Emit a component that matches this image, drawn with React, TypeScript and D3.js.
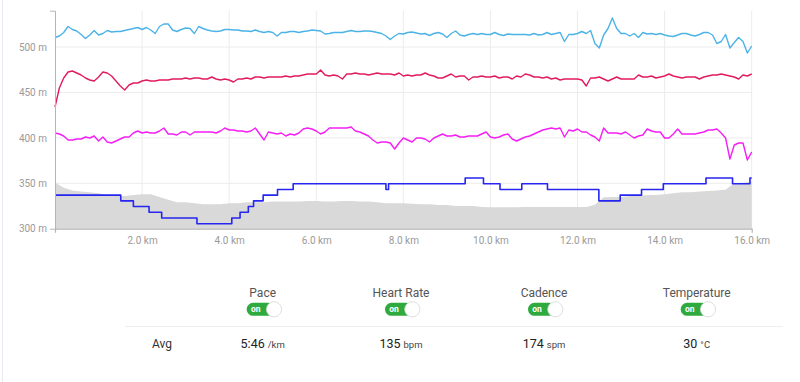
import React, { useEffect, useRef } from 'react';
import * as d3 from 'd3';

const W = 800;
const H = 382;
const STEP_KM = 0.1;
const ALT_STEP_KM = 0.2;
const X_TICKS = [2, 4, 6, 8, 10, 12, 14, 16];
const Y_TICKS = [300, 350, 400, 450, 500];

// Pace, sec/km, every 0.1 km
const PACE = [
  351, 348, 341, 329, 335, 338, 345, 353, 346, 337,
  346, 343, 337, 340, 339, 339, 337, 335, 333, 331,
  335, 331, 336, 343, 329, 324, 324, 336, 339, 335,
  332, 333, 343, 329, 333, 336, 338, 339, 338, 335,
  335, 336, 336, 338, 338, 339, 336, 339, 341, 339,
  341, 348, 341, 341, 339, 339, 341, 339, 338, 336,
  337, 338, 344, 343, 341, 341, 341, 339, 337, 339,
  339, 338, 338, 339, 341, 343, 348, 355, 348, 343,
  344, 341, 340, 342, 344, 343, 347, 343, 341, 344,
  351, 343, 338, 346, 348, 345, 343, 345, 343, 345,
  345, 341, 345, 347, 344, 345, 345, 345, 345, 346,
  343, 346, 345, 341, 345, 343, 341, 359, 345, 345,
  343, 339, 343, 337, 363, 372, 346, 333, 312, 333,
  343, 343, 348, 343, 351, 341, 344, 343, 345, 343,
  346, 348, 349, 346, 343, 343, 346, 348, 345, 341,
  341, 346, 363, 359, 345, 372, 361, 351, 359, 382,
  368,
];

// Heart rate, bpm, every 0.1 km
const HEART_RATE = [
  104, 123, 133, 139, 140, 138, 136, 133, 131, 130,
  134, 139, 138, 135, 130, 125, 121, 126, 128, 128,
  130, 131, 130, 130, 131, 131, 131, 132, 132, 132,
  133, 132, 133, 133, 132, 132, 134, 132, 131, 132,
  131, 129, 132, 132, 133, 132, 134, 134, 133, 134,
  134, 134, 134, 135, 134, 135, 135, 136, 137, 137,
  137, 141, 136, 135, 136, 135, 132, 137, 137, 138,
  137, 137, 136, 137, 138, 137, 137, 137, 136, 138,
  135, 136, 135, 136, 136, 138, 136, 135, 133, 133,
  135, 137, 134, 135, 135, 131, 134, 134, 135, 134,
  134, 135, 133, 134, 134, 132, 135, 134, 137, 136,
  134, 134, 133, 134, 132, 133, 131, 132, 132, 132,
  132, 131, 125, 133, 133, 134, 132, 130, 132, 134,
  132, 132, 132, 132, 136, 134, 134, 135, 133, 134,
  135, 137, 135, 134, 133, 134, 134, 134, 132, 134,
  135, 136, 136, 137, 136, 135, 134, 132, 136, 135,
  137,
];

// Cadence, spm, every 0.1 km
const CADENCE = [
  175, 174, 172, 168, 168, 169, 169, 171, 170, 172,
  167, 171, 166, 165, 167, 169, 171, 171, 175, 177,
  175, 176, 175, 175, 177, 180, 174, 174, 173, 176,
  176, 173, 176, 176, 176, 176, 176, 175, 177, 180,
  178, 178, 177, 177, 176, 177, 180, 174, 168, 176,
  175, 174, 175, 172, 174, 173, 175, 179, 180, 179,
  177, 174, 176, 180, 180, 180, 180, 180, 181, 177,
  176, 174, 172, 168, 165, 166, 166, 165, 159, 165,
  170, 168, 166, 170, 170, 169, 166, 170, 172, 174,
  172, 172, 173, 171, 171, 172, 172, 172, 174, 176,
  171, 170, 171, 173, 174, 169, 167, 169, 171, 172,
  174, 176, 178, 179, 180, 179, 180, 171, 178, 177,
  179, 176, 176, 173, 171, 167, 180, 175, 175, 175,
  174, 176, 173, 170, 172, 173, 179, 177, 176, 176,
  170, 170, 174, 179, 174, 174, 174, 174, 175, 176,
  178, 178, 179, 175, 170, 149, 163, 165, 165, 148,
  156,
];

// Altitude, m, every 0.2 km
const ALTITUDE = [
  351, 345, 342, 341, 340, 339, 337, 336, 336, 337,
  338, 338, 335, 332, 329, 329, 328, 327, 327, 327,
  328, 328, 329, 329, 329, 330, 330, 330, 330, 330.5,
  330.5, 330, 330, 330.5, 330.5, 330, 330, 329, 328, 328,
  328, 327.5, 327, 327, 326, 326, 325, 325, 325, 324,
  323.5, 323.5, 323.5, 323.5, 324, 324, 324, 324, 324, 324,
  324, 324, 326.5, 334.5, 335, 335, 336, 336, 337, 337,
  338, 339, 340, 340, 341, 341.5, 342, 343, 350, 350.5,
  352,
];

// Temperature, °C, step changes
const TEMP_START_KM = [
  0, 1.51, 1.8, 2.16, 2.45, 3.26, 4.06, 4.25, 4.44, 4.56, 4.78, 5.11, 5.47,
  7.6, 7.66, 9.42, 9.84, 10.22, 10.72, 11.31, 12.49, 12.98, 13.47, 13.97,
  14.95, 15.56, 15.96,
];
const TEMP_C = [
  29, 28, 27, 26, 25, 24, 25, 26, 27, 28, 29, 30, 31,
  30, 31, 32, 31, 30, 31, 30, 28, 29, 30, 31,
  32, 31, 32,
];

const SERIES = ['Pace', 'Heart Rate', 'Cadence', 'Temperature'];
const AVG_VALUES = ['5:46', '135', '174', '30'];
const AVG_UNITS = ['/km', 'bpm', 'spm', '°C'];

const COLORS = {
  pace: '#4cb3e6',
  hr: '#e21c5c',
  cad: '#f51ef5',
  temp: '#2626f0',
  alt: '#d9d9d9',
};

const FONT = 'Roboto, "Noto Sans", sans-serif';

export default function App() {
  const xAxisRef = useRef<SVGGElement>(null);
  const yAxisRef = useRef<SVGGElement>(null);

  const x = d3.scaleLinear().domain([0, 16]).range([55, 751.7]);
  const yAlt = d3.scaleLinear().domain([300, 540]).range([228.7, 10.7]);
  const yPace = d3.scaleLinear().domain([300, 400]).range([12, 62]);
  const yHr = d3.scaleLinear().domain([100, 160]).range([111, 51]);
  const yCad = d3.scaleLinear().domain([140, 190]).range([168, 118]);
  const yTemp = d3.scaleLinear().domain([24, 32]).range([223.7, 178]);

  const line = (ys: d3.ScaleLinear<number, number>, arr: number[]) =>
    d3
      .line<number>()
      .x((_, i) => x(i * STEP_KM))
      .y((d) => ys(d))(arr) || '';

  const altArea =
    d3
      .area<number>()
      .x((_, i) => x(i * ALT_STEP_KM))
      .y0(yAlt(300))
      .y1((d) => yAlt(d))(ALTITUDE) || '';

  const tempPts: [number, number][] = TEMP_START_KM.map((k, i) => [k, TEMP_C[i]]);
  tempPts.push([16, TEMP_C[TEMP_C.length - 1]]);
  const tempPath =
    d3
      .line<[number, number]>()
      .x((d) => x(d[0]))
      .y((d) => yTemp(d[1]))
      .curve(d3.curveStepAfter)(tempPts) || '';

  useEffect(() => {
    if (xAxisRef.current) {
      const g = d3.select(xAxisRef.current);
      g.call(
        d3
          .axisBottom(x)
          .tickValues(X_TICKS)
          .tickSizeInner(0)
          .tickSizeOuter(4)
          .tickPadding(8)
          .tickFormat((d) => `${(+d).toFixed(1)} km`)
      );
      g.select('.domain').attr('stroke', '#b5b5b5').attr('stroke-width', 1.2);
      g.selectAll('text').attr('fill', '#9a9a9a').attr('font-size', 10).attr('font-family', FONT);
    }
    if (yAxisRef.current) {
      const g = d3.select(yAxisRef.current);
      g.call(
        d3
          .axisLeft(yAlt)
          .tickValues(Y_TICKS)
          .tickSizeInner(0)
          .tickSizeOuter(5)
          .tickPadding(8)
          .tickFormat((d) => `${d} m`)
      );
      g.select('.domain').attr('stroke', '#b5b5b5').attr('stroke-width', 1);
      g.selectAll('text').attr('fill', '#9a9a9a').attr('font-size', 10).attr('font-family', FONT);
    }
  }, []);

  const cols = [262.7, 401, 544, 696.7];

  return (
    <div style={{ position: 'absolute', left: 0, top: 0 }}>
      <svg width={W} height={H} style={{ display: 'block', background: '#fff' }}>
        <line x1={2.5} x2={2.5} y1={0} y2={H} stroke="#e9e9f0" strokeWidth={1} />
        {/* grid */}
        {Y_TICKS.filter((t) => t > 300).map((t) => (
          <line key={'gy' + t} x1={x(0)} x2={x(16)} y1={yAlt(t)} y2={yAlt(t)} stroke="#ececec" strokeWidth={1} />
        ))}
        {X_TICKS.map((t) => (
          <line key={'gx' + t} x1={x(t)} x2={x(t)} y1={yAlt(540)} y2={yAlt(300)} stroke="#ececec" strokeWidth={1} />
        ))}
        <path d={altArea} fill={COLORS.alt} />
        <path d={line(yCad, CADENCE)} fill="none" stroke={COLORS.cad} strokeWidth={1.4} strokeLinejoin="round" />
        <path d={line(yHr, HEART_RATE)} fill="none" stroke={COLORS.hr} strokeWidth={1.4} strokeLinejoin="round" />
        <path d={line(yPace, PACE)} fill="none" stroke={COLORS.pace} strokeWidth={1.4} strokeLinejoin="round" />
        <path d={tempPath} fill="none" stroke={COLORS.temp} strokeWidth={1.6} strokeLinejoin="round" />
        <g ref={xAxisRef} transform={`translate(0,${yAlt(300)})`} />
        <g ref={yAxisRef} transform={`translate(${x(0)},0)`} />

        {/* toggles */}
        {SERIES.map((s, i) => {
          const cx = cols[i];
          return (
            <g key={s}>
              <text x={cx} y={296.5} textAnchor="middle" fontSize={12} fill="#555" fontFamily={FONT}>
                {s}
              </text>
              <rect x={cx - 16} y={302.8} width={28} height={13} rx={6.5} fill="#2eaa3f" />
              <text x={cx - 7} y={312.3} textAnchor="middle" fontSize={8.5} fontWeight={700} fill="#fff" fontFamily={FONT}>
                on
              </text>
              <circle cx={cx + 11.3} cy={309.3} r={7.6} fill="#fff" stroke="#d6d6d6" strokeWidth={0.8} />
            </g>
          );
        })}
        <line x1={125} x2={783} y1={326.5} y2={326.5} stroke="#eeeeee" strokeWidth={1} />
        <text x={152} y={347.5} fontSize={12} fill="#333" fontFamily={FONT}>
          Avg
        </text>
        {AVG_VALUES.map((v, i) => (
          <text key={'v' + i} x={cols[i]} y={347.5} textAnchor="middle" fontFamily={FONT} fill="#222">
            <tspan fontSize={12.5}>{v}</tspan>
            <tspan fontSize={9.5} fill="#444" dx={3}>
              {AVG_UNITS[i]}
            </tspan>
          </text>
        ))}
      </svg>
    </div>
  );
}
